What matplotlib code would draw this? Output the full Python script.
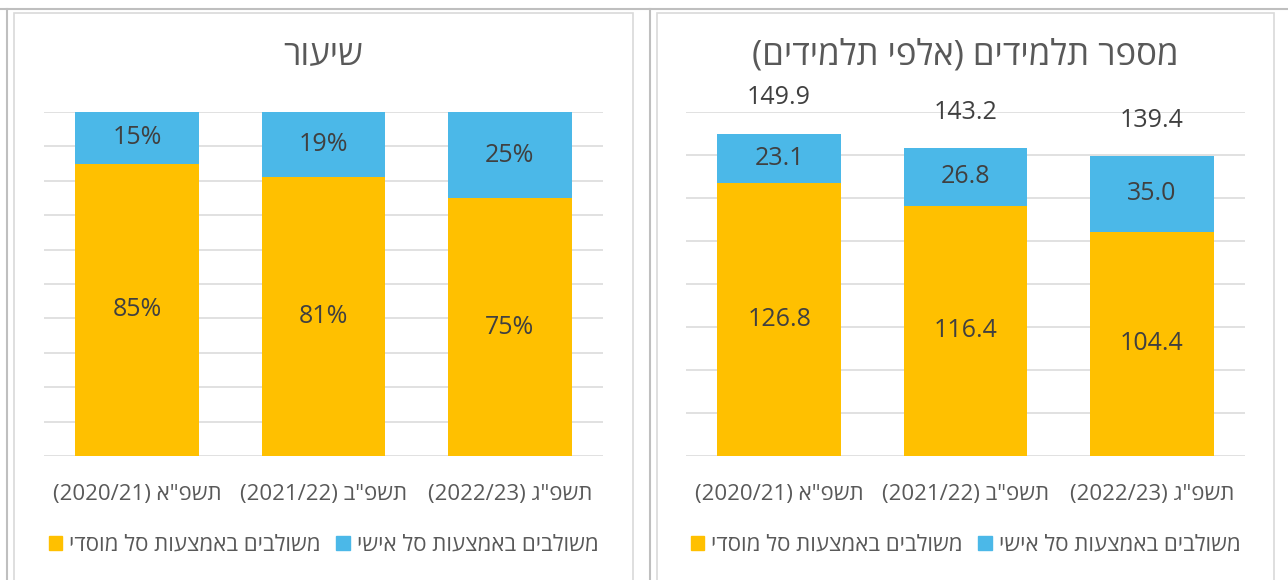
import re
import matplotlib
matplotlib.use('Agg')
import matplotlib.pyplot as plt
from matplotlib.patches import Patch, Rectangle
from matplotlib.lines import Line2D

plt.rcParams['font.family'] = ['Open Sans', 'Liberation Sans', 'DejaVu Sans']

# === Data ===
years = ['תשפ"א (2020/21)', 'תשפ"ב (2021/22)', 'תשפ"ג (2022/23)']
series_names = ['משולבים באמצעות סל מוסדי', 'משולבים באמצעות סל אישי']

share_mosdi = [0.85, 0.81, 0.75]
share_ishi = [0.15, 0.19, 0.25]

students_mosdi = [126.8, 116.4, 104.4]
students_ishi = [23.1, 26.8, 35.0]

title_left = 'שיעור'
title_right = 'מספר תלמידים (אלפי תלמידים)'

YELLOW = '#FFC000'
BLUE = '#4BB8E8'
GRID = '#D9D9D9'
TXT = '#595959'
VAL = '#404040'


def rtl(s):
    # simple visual reordering for Hebrew text (matplotlib draws left-to-right)
    s = s[::-1].translate(str.maketrans('()', ')('))
    return re.sub(r'[0-9][0-9/.]*', lambda m: m.group(0)[::-1], s)


fig = plt.figure(figsize=(12.88, 5.8), dpi=100)
W, H = 1288, 580

# Excel-like frame lines
def vline(x, color, lw=1.2):
    fig.add_artist(Line2D([x / W, x / W], [0, 1 - 9 / H], transform=fig.transFigure,
                          color=color, lw=lw))

fig.add_artist(Line2D([0, 1], [1 - 9 / H, 1 - 9 / H], transform=fig.transFigure,
                      color='#BFBFBF', lw=1.5))
vline(7, '#BFBFBF', 1.5)
vline(650, '#BFBFBF', 1.5)
for x0, x1 in [(14, 633), (657, 1274)]:
    fig.add_artist(Rectangle((x0 / W, -0.01), (x1 - x0) / W, 1 - 13 / H + 0.01,
                             transform=fig.transFigure, fill=False,
                             edgecolor=GRID, lw=1.2))


def draw_panel(ax, bottom_vals, top_vals, ymax, step, fmt, title, totals=False):
    x = range(len(years))
    w = 0.665
    b1 = ax.bar(x, bottom_vals, width=w, color=YELLOW, label=rtl(series_names[0]), zorder=2)
    b2 = ax.bar(x, top_vals, width=w, bottom=bottom_vals, color=BLUE,
                label=rtl(series_names[1]), zorder=2)
    ax.bar_label(b1, labels=[fmt(v) for v in bottom_vals], label_type='center',
                 fontsize=18, color=VAL)
    ax.bar_label(b2, labels=[fmt(v) for v in top_vals], label_type='center',
                 fontsize=18, color=VAL)
    if totals:
        for i, (a, b) in enumerate(zip(bottom_vals, top_vals)):
            ax.annotate(f'{a + b:.1f}', (i, a + b), xytext=(0, 26),
                        textcoords='offset points', ha='center', va='center',
                        fontsize=18, color=VAL)
    ax.set_xlim(-0.5, len(years) - 0.5)
    ax.set_ylim(0, ymax)
    ax.set_yticks([i * step for i in range(int(round(ymax / step)) + 1)])
    ax.yaxis.set_tick_params(length=0, labelleft=False)
    ax.grid(axis='y', color=GRID, lw=1.1)
    ax.set_axisbelow(True)
    for s in ax.spines.values():
        s.set_visible(False)
    ax.set_xticks(list(x))
    ax.set_xticklabels([rtl(y) for y in years], fontsize=16, color=TXT)
    ax.tick_params(axis='x', length=0, pad=20)
    ax.set_title(rtl(title), fontsize=25, color=TXT, pad=0, y=1 + 57 / 344, va='center')
    ax.legend(handles=[Patch(color=YELLOW, label=rtl(series_names[0])),
                       Patch(color=BLUE, label=rtl(series_names[1]))],
              loc='center', bbox_to_anchor=(0.5, -0.259), ncol=2, frameon=False,
              fontsize=16, labelcolor=TXT, handlelength=0.62, handleheight=0.62,
              handletextpad=0.3, columnspacing=0.7, borderpad=0)


ax1 = fig.add_axes([44 / W, 124 / H, 559 / W, 344 / H])
ax2 = fig.add_axes([686 / W, 124 / H, 559 / W, 344 / H])

draw_panel(ax1, share_mosdi, share_ishi, 1.0, 0.1, lambda v: f'{v * 100:.0f}%', title_left)
draw_panel(ax2, students_mosdi, students_ishi, 160, 20, lambda v: f'{v:.1f}', title_right,
           totals=True)

fig.savefig('out.png', dpi=100, facecolor='white')
